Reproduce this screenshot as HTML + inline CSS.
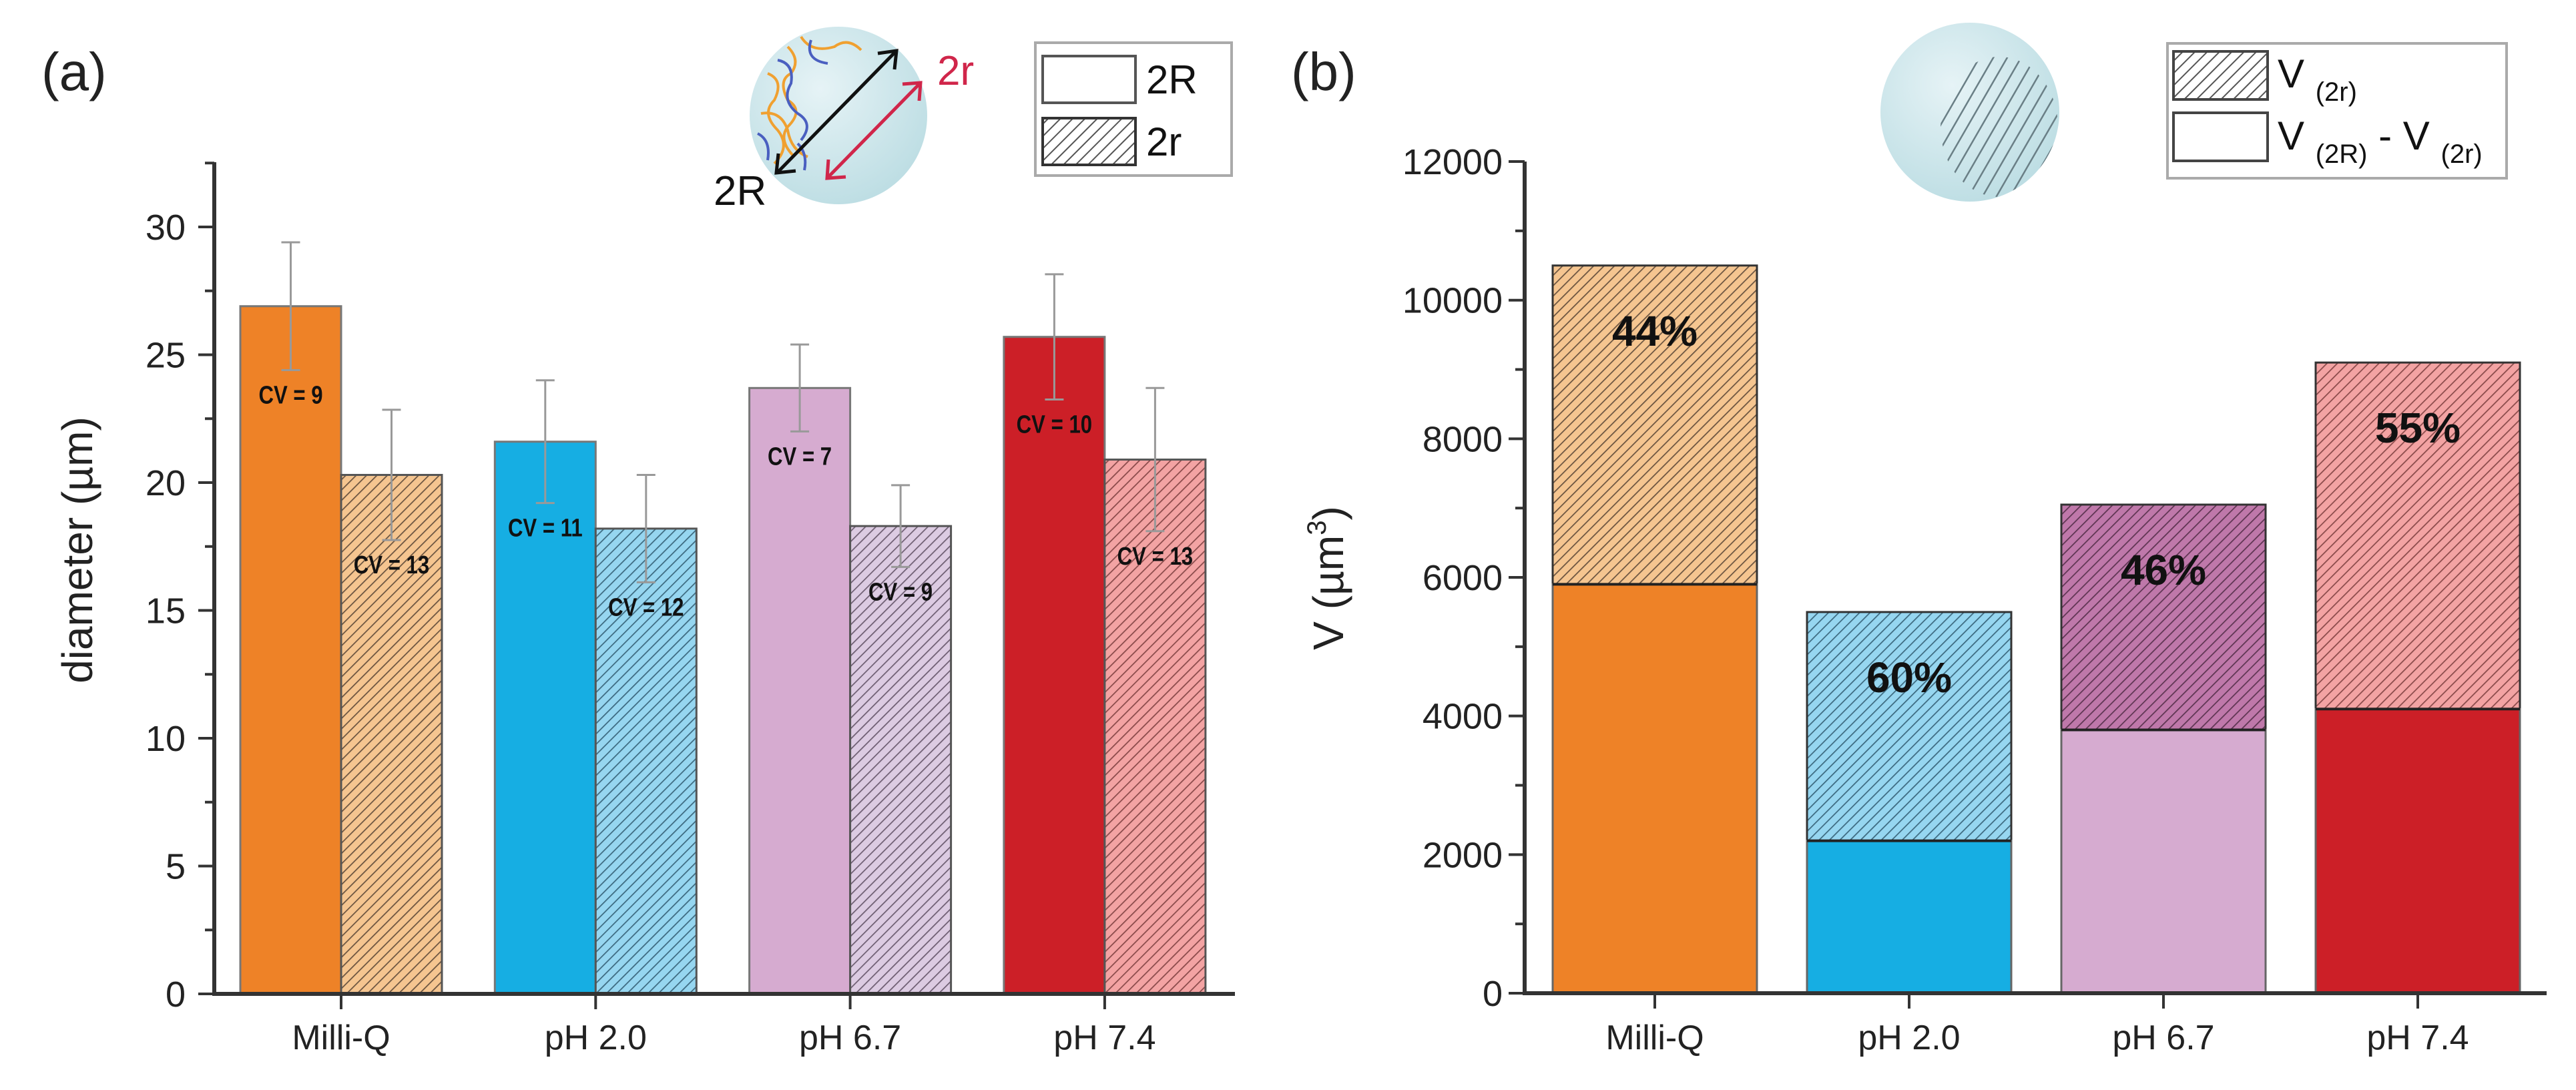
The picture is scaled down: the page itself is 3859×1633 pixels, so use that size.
<!DOCTYPE html>
<html><head><meta charset="utf-8"><style>
html,body{margin:0;padding:0;background:#fff;}
svg{display:block;font-family:"Liberation Sans",Arial,sans-serif;}
</style></head><body>
<svg id="fig" width="3859" height="1633" viewBox="0 0 3859 1633" xmlns="http://www.w3.org/2000/svg">
<defs>
 <pattern id="hOr" patternUnits="userSpaceOnUse" width="11" height="11" patternTransform="rotate(45)"><rect width="11" height="11" fill="#f5c590"/><line x1="0" y1="0" x2="0" y2="11" stroke="#6b5440" stroke-width="3.5"/></pattern>
 <pattern id="hBl" patternUnits="userSpaceOnUse" width="11" height="11" patternTransform="rotate(45)"><rect width="11" height="11" fill="#96d6f0"/><line x1="0" y1="0" x2="0" y2="11" stroke="#3d6a80" stroke-width="3.5"/></pattern>
 <pattern id="hPk" patternUnits="userSpaceOnUse" width="11" height="11" patternTransform="rotate(45)"><rect width="11" height="11" fill="#dccbe2"/><line x1="0" y1="0" x2="0" y2="11" stroke="#6e5e72" stroke-width="3.5"/></pattern>
 <pattern id="hPk2" patternUnits="userSpaceOnUse" width="11" height="11" patternTransform="rotate(45)"><rect width="11" height="11" fill="#bf78aa"/><line x1="0" y1="0" x2="0" y2="11" stroke="#5e3552" stroke-width="3.5"/></pattern>
 <pattern id="hRd" patternUnits="userSpaceOnUse" width="11" height="11" patternTransform="rotate(45)"><rect width="11" height="11" fill="#f3a3a3"/><line x1="0" y1="0" x2="0" y2="11" stroke="#8a4a4a" stroke-width="3.5"/></pattern>
 <pattern id="hGy" patternUnits="userSpaceOnUse" width="13" height="13" patternTransform="rotate(45)"><rect width="13" height="13" fill="#fff"/><line x1="0" y1="0" x2="0" y2="13" stroke="#555" stroke-width="4"/></pattern>
 <pattern id="hLn" patternUnits="userSpaceOnUse" width="18" height="18" patternTransform="rotate(30)"><line x1="0" y1="0" x2="0" y2="18" stroke="#6a7f86" stroke-width="5"/></pattern>
 <radialGradient id="sph" cx="0.4" cy="0.35" r="0.7"><stop offset="0" stop-color="#e6f3f6"/><stop offset="1" stop-color="#bcdde3"/></radialGradient>
 <clipPath id="clipB"><circle cx="2951" cy="168" r="134"/></clipPath>
</defs>
<g id="pa"></g>
<g id="pb"></g>
</svg>
<script>
const categories = ["Milli-Q","pH 2.0","pH 6.7","pH 7.4"];
const diam2R = [26.9, 21.6, 23.7, 25.7];
const err2R = [2.5, 2.4, 1.7, 2.45];
const diam2r = [20.3, 18.2, 18.3, 20.9];
const err2r = [2.55, 2.1, 1.6, 2.8];
const cv2R = ["CV = 9","CV = 11","CV = 7","CV = 10"];
const cv2r = ["CV = 13","CV = 12","CV = 9","CV = 13"];
const ticksA = [0,5,10,15,20,25,30];
const volShell = [5900, 2200, 3800, 4100];
const volCoreTop = [10500, 5500, 7050, 9100];
const pctLabels = ["44%","60%","46%","55%"];
const ticksB = [0,2000,4000,6000,8000,10000,12000];

const NS="http://www.w3.org/2000/svg";
function mk(parent,tag,attrs,text){const e=document.createElementNS(NS,tag);for(const k in attrs)e.setAttribute(k,attrs[k]);if(text!==undefined)e.textContent=text;parent.appendChild(e);return e;}

const solid=["#ee8227","#16aee3","#d6abd0","#cc1f27"];
const hatchA=["url(#hOr)","url(#hBl)","url(#hPk)","url(#hRd)"];
const hatchB=["url(#hOr)","url(#hBl)","url(#hPk2)","url(#hRd)"];

// ---------- panel a ----------
const pa=document.getElementById('pa');
const ya=v=>1489-v*38.3;
const xa=i=>511+i*381.3;
const bwA=151;
let t;
t=mk(pa,'text',{x:62,y:135,'font-size':80,fill:'#222'},'(a)');

for(let i=0;i<categories.length;i++){
  const c=xa(i);
  let r=mk(pa,'rect',{x:c-bwA,y:ya(diam2R[i]),width:bwA,height:ya(0)-ya(diam2R[i]),fill:solid[i],stroke:'#777','stroke-width':3});
  
  r=mk(pa,'rect',{x:c,y:ya(diam2r[i]),width:bwA,height:ya(0)-ya(diam2r[i]),fill:hatchA[i],stroke:'#555','stroke-width':3});
  
  [[c-bwA/2,diam2R[i],err2R[i]],[c+bwA/2,diam2r[i],err2r[i]]].forEach(([x,v,e],k)=>{
    const g=mk(pa,'g',{stroke:'#999','stroke-width':3});
    
    mk(g,'line',{x1:x,x2:x,y1:ya(v+e),y2:ya(v-e)});
    mk(g,'line',{x1:x-14,x2:x+14,y1:ya(v+e),y2:ya(v+e)});
    mk(g,'line',{x1:x-14,x2:x+14,y1:ya(v-e),y2:ya(v-e)});
  });
  t=mk(pa,'text',{x:c-bwA/2,y:ya(diam2R[i]-err2R[i])+50,'font-size':38,'font-weight':'bold','text-anchor':'middle',fill:'#111',transform:`translate(${c-bwA/2} 0) scale(0.82 1) translate(${-(c-bwA/2)} 0)`},cv2R[i]);
  
  t=mk(pa,'text',{x:c+bwA/2,y:ya(diam2r[i]-err2r[i])+50,'font-size':38,'font-weight':'bold','text-anchor':'middle',fill:'#111',transform:`translate(${c+bwA/2} 0) scale(0.82 1) translate(${-(c+bwA/2)} 0)`},cv2r[i]);
  
  let l=mk(pa,'line',{x1:c,x2:c,y1:1489,y2:1512,stroke:'#333','stroke-width':4});
  
  t=mk(pa,'text',{x:c,y:1572,'font-size':52,'text-anchor':'middle',fill:'#222'},categories[i]);
  
}
let ax=mk(pa,'path',{d:'M321 243 V1489 H1850',stroke:'#333','stroke-width':6,fill:'none'});

for(const v of ticksA){
  let l=mk(pa,'line',{x1:297,x2:321,y1:ya(v),y2:ya(v),stroke:'#333','stroke-width':4});
  
  t=mk(pa,'text',{x:278,y:ya(v)+19,'font-size':54,'text-anchor':'end',fill:'#222'},String(v));
  
  if(v<30){let m=mk(pa,'line',{x1:307,x2:321,y1:ya(v+2.5),y2:ya(v+2.5),stroke:'#333','stroke-width':4});
  }
}
mk(pa,'line',{x1:307,x2:321,y1:ya(32.5),y2:ya(32.5),stroke:'#333','stroke-width':4});
t=mk(pa,'text',{x:0,y:0,'font-size':64,'text-anchor':'middle',fill:'#222',transform:'translate(138 824) rotate(-90)'},'diameter (µm)');

// inset sphere a
let gs=mk(pa,'g',{});
mk(gs,'ellipse',{cx:1256,cy:173,rx:133,ry:133,fill:'url(#sph)'});
mk(gs,'path',{d:'M1180 70 q20 20 5 40 q-20 10 -5 40 q25 15 0 40 q-15 20 10 45 M1150 110 q25 10 10 40 q-20 20 5 45 q20 25 -5 50 M1200 55 q15 25 50 15 q20 -15 40 5 M1140 170 q30 -5 40 25 q5 30 30 40',stroke:'#f0a030','stroke-width':4,fill:'none'});
mk(gs,'path',{d:'M1165 90 q25 5 20 35 q-15 25 10 45 q25 15 5 40 M1215 60 q-10 30 25 35 M1135 200 q20 10 15 40 M1195 215 q15 15 10 40',stroke:'#4a5fc0','stroke-width':4,fill:'none'});
mk(gs,'line',{x1:1165,y1:258,x2:1342,y2:77,stroke:'#111','stroke-width':5});
mk(gs,'path',{d:'M1315 80 L1343 76 L1340 104 M1166 230 L1163 259 L1192 256',stroke:'#111','stroke-width':5,fill:'none'});
mk(gs,'line',{x1:1240,y1:266,x2:1378,y2:125,stroke:'#d0264a','stroke-width':5});
mk(gs,'path',{d:'M1352 126 L1379 124 L1377 151 M1241 239 L1239 267 L1267 265',stroke:'#d0264a','stroke-width':5,fill:'none'});
t=mk(pa,'text',{x:1404,y:127,'font-size':62,fill:'#d0264a'},'2r');
t=mk(pa,'text',{x:1069,y:307,'font-size':62,fill:'#111'},'2R');
// legend a
let lg=mk(pa,'g',{});
mk(lg,'rect',{x:1551,y:64,width:294,height:199,fill:'#fff',stroke:'#aaa','stroke-width':4});
let s=mk(lg,'rect',{x:1562,y:84,width:139,height:70,fill:'#fff',stroke:'#555','stroke-width':4});

s=mk(lg,'rect',{x:1562,y:177,width:139,height:70,fill:'url(#hGy)',stroke:'#333','stroke-width':4});

t=mk(lg,'text',{x:1717,y:140,'font-size':60,fill:'#111'},'2R');
t=mk(lg,'text',{x:1717,y:233,'font-size':60,fill:'#111'},'2r');

// ---------- panel b ----------
const pb=document.getElementById('pb');
const yb=v=>1488-v*0.10383;
const xb=i=>2479+i*381;
const bwB=306;
t=mk(pb,'text',{x:1934,y:135,'font-size':80,fill:'#222'},'(b)');

for(let i=0;i<categories.length;i++){
  const c=xb(i);
  let r=mk(pb,'rect',{x:c-bwB/2,y:yb(volCoreTop[i]),width:bwB,height:yb(volShell[i])-yb(volCoreTop[i]),fill:hatchB[i],stroke:'#333','stroke-width':3});
  
  r=mk(pb,'rect',{x:c-bwB/2,y:yb(volShell[i]),width:bwB,height:yb(0)-yb(volShell[i]),fill:solid[i],stroke:'#666','stroke-width':3});
  
  let l=mk(pb,'line',{x1:c-bwB/2,x2:c+bwB/2,y1:yb(volShell[i]),y2:yb(volShell[i]),stroke:'#222','stroke-width':4});
  const mid=(yb(volCoreTop[i])+yb(volShell[i]))/2;
  const ty=Math.min(yb(volCoreTop[i])+120, mid+20);
  t=mk(pb,'text',{x:c,y:ty,'font-size':64,'font-weight':'bold','text-anchor':'middle',fill:'#111'},pctLabels[i]);
  
  l=mk(pb,'line',{x1:c,x2:c,y1:1488,y2:1511,stroke:'#333','stroke-width':4});
  
  t=mk(pb,'text',{x:c,y:1572,'font-size':52,'text-anchor':'middle',fill:'#222'},categories[i]);
  
}
ax=mk(pb,'path',{d:'M2284 242 V1488 H3815',stroke:'#333','stroke-width':6,fill:'none'});

for(const v of ticksB){
  let l=mk(pb,'line',{x1:2260,x2:2284,y1:yb(v),y2:yb(v),stroke:'#333','stroke-width':4});
  
  t=mk(pb,'text',{x:2251,y:yb(v)+19,'font-size':54,'text-anchor':'end',fill:'#222'},String(v));
  
  if(v<12000){let m=mk(pb,'line',{x1:2270,x2:2284,y1:yb(v+1000),y2:yb(v+1000),stroke:'#333','stroke-width':4});
  }
}
t=mk(pb,'text',{x:0,y:0,'font-size':64,'text-anchor':'middle',fill:'#222',transform:'translate(2012 866) rotate(-90)'});

mk(t,'tspan',{},'V (µm');mk(t,'tspan',{'font-size':40,dy:-26},'3');mk(t,'tspan',{dy:26},')');
// inset sphere b
gs=mk(pb,'g',{});
mk(gs,'circle',{cx:2951,cy:168,r:134,fill:'url(#sph)'});
mk(gs,'ellipse',{cx:2995,cy:190,rx:88,ry:105,fill:'url(#hLn)','clip-path':'url(#clipB)'});
// legend b
lg=mk(pb,'g',{});
mk(lg,'rect',{x:3247,y:65,width:508,height:202,fill:'#fff',stroke:'#aaa','stroke-width':4});
s=mk(lg,'rect',{x:3256,y:77,width:141,height:72,fill:'url(#hGy)',stroke:'#444','stroke-width':4});

s=mk(lg,'rect',{x:3256,y:169,width:141,height:72,fill:'#fff',stroke:'#444','stroke-width':4});

t=mk(lg,'text',{x:3412,y:131,'font-size':60,fill:'#111'});
mk(t,'tspan',{},'V ');mk(t,'tspan',{'font-size':40,dy:20},'(2r)');
t=mk(lg,'text',{x:3412,y:224,'font-size':60,fill:'#111'});
mk(t,'tspan',{},'V ');mk(t,'tspan',{'font-size':40,dy:20},'(2R)');mk(t,'tspan',{dy:-20},' - V ');mk(t,'tspan',{'font-size':40,dy:20},'(2r)');
</script>
</body></html>
